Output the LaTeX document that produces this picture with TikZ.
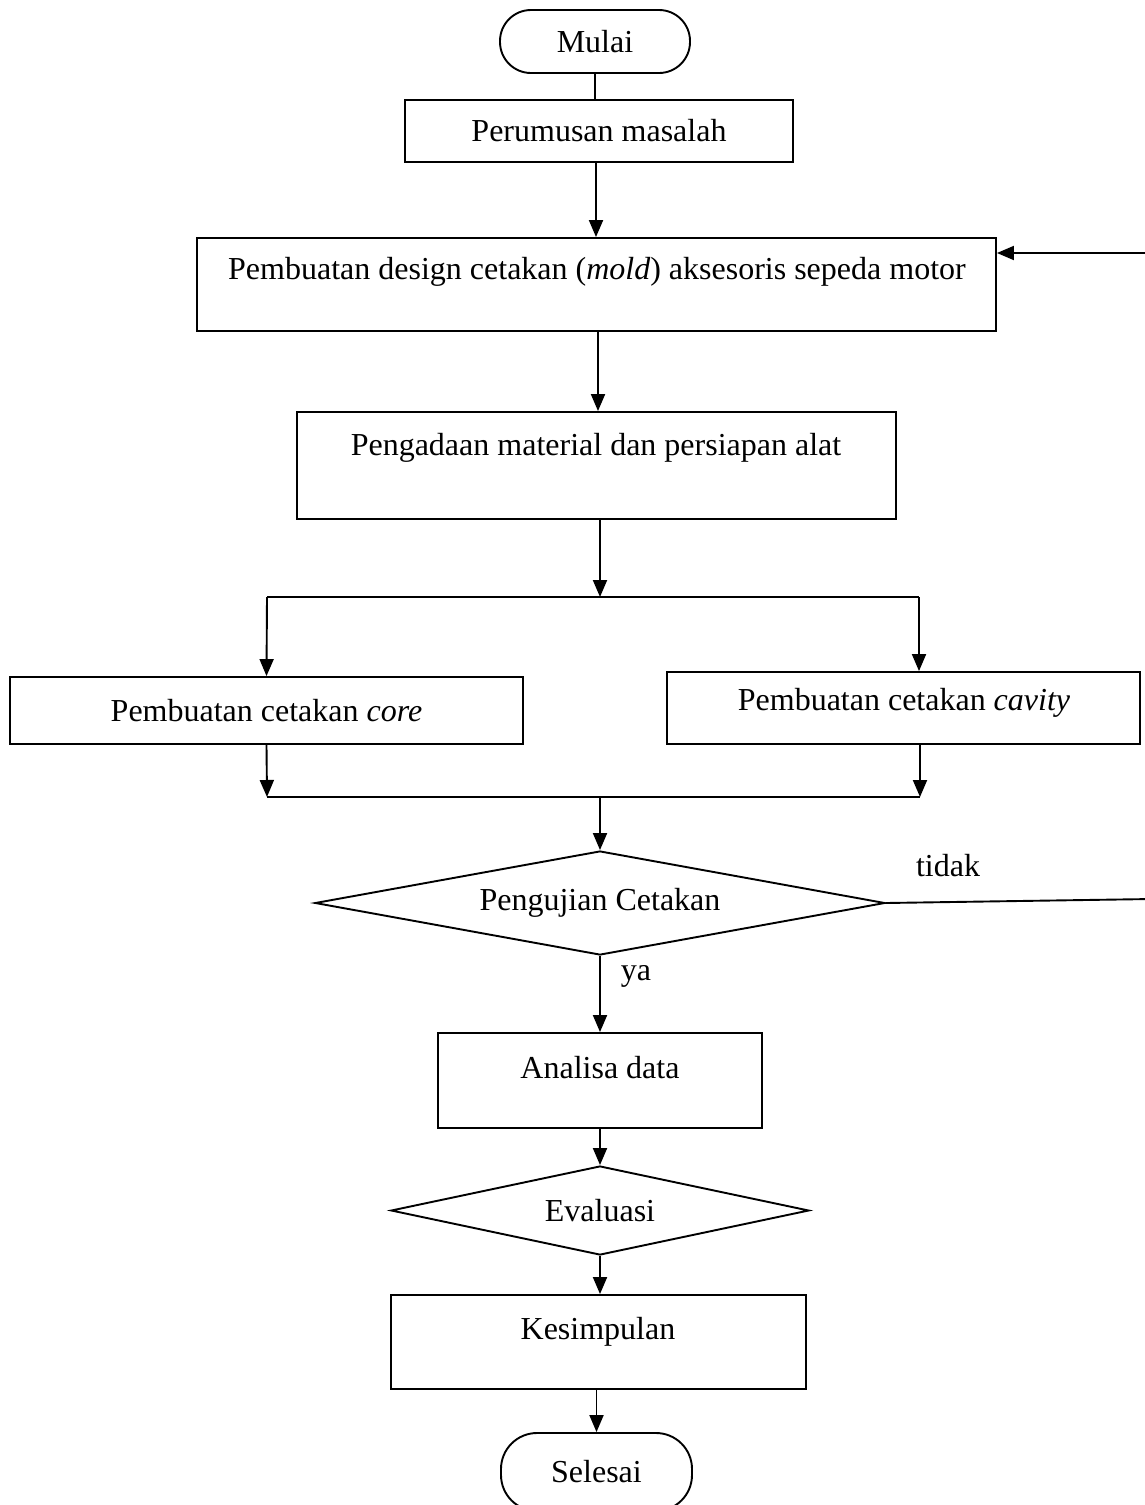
\documentclass[tikz,border=0pt]{standalone}
\usepackage{fontspec}
\setmainfont{Liberation Serif}
\usetikzlibrary{shapes.geometric,arrows.meta,calc}
\begin{document}
\begin{tikzpicture}[x=1pt,y=-1pt,
  every node/.style={font=\fontsize{32}{36}\selectfont},
  box/.style={draw,line width=1.9pt,rectangle,inner sep=0pt},
  term/.style={draw,line width=1.9pt,rectangle,rounded corners=31pt,inner sep=0pt},
  dia/.style={draw,line width=1.9pt,diamond,inner sep=0pt},
  txt/.style={inner sep=0pt},
  conn/.style={line width=1.9pt},
  arr/.style={line width=1.9pt,-{Triangle[length=17pt,width=14pt]}}]
\useasboundingbox (0,0) rectangle (1145,1505);
% nodes
\node[term,minimum width=190pt,minimum height=63pt] (mulai) at (595,41.5) {Mulai};
\node[box,minimum width=388pt,minimum height=62pt] (perum) at (599,131) {Perumusan masalah};
\node[box,minimum width=799pt,minimum height=93pt] (design) at (596.5,284.5) {};
\node[txt] (designt) at (597,272) {Pembuatan design cetakan (\textit{mold}) aksesoris sepeda motor};
\node[box,minimum width=599pt,minimum height=107pt] (pengadaan) at (596.5,465.5) {};
\node[txt] (pengadaant) at (596,448) {Pengadaan material dan persiapan alat};
\node[box,minimum width=513pt,minimum height=67pt] (core) at (266.5,710.5) {Pembuatan cetakan \textit{core}};
\node[box,minimum width=473pt,minimum height=72pt] (cavity) at (903.5,708) {};
\node[txt] (cavityt) at (904,703) {Pembuatan cetakan \textit{cavity}};
\node[dia,shape aspect=5.48,minimum width=570pt,minimum height=104pt] (uji) at (600,903) {Pengujian Cetakan};
\node[box,minimum width=324pt,minimum height=95pt] (analisa) at (600,1080.5) {};
\node[txt] (analisat) at (600,1068) {Analisa data};
\node[dia,shape aspect=4.7,minimum width=418pt,minimum height=89pt] (eval) at (600,1210.5) {Evaluasi};
\node[box,minimum width=415pt,minimum height=94pt] (kes) at (598.5,1342) {};
\node[txt] (kest) at (598,1332) {Kesimpulan};
\node[term,minimum width=191pt,minimum height=78pt,rounded corners=36pt] (selesai) at (596.5,1472) {Selesai};
\node[txt] (tidak) at (948,866) {tidak};
\node[txt] (ya) at (636,976) {ya};
% coordinates
\coordinate (split) at (600,597);
\coordinate (sl) at (267,597);
\coordinate (sr) at (919,597);
\coordinate (jl) at (267,797);
\coordinate (jr) at (920,797);
\coordinate (jm) at (600,797);
\coordinate (fb1) at (1152,899);
\coordinate (fb2) at (1152,253);
% connectors
\draw[conn] (mulai.south) -- (mulai.south |- perum.north);
\draw[arr] (perum.south -| 596,0) -- (design.north -| 596,0);
\draw[arr] (design.south -| 598,0) -- (pengadaan.north -| 598,0);
\draw[arr] (pengadaan.south -| split) -- (split);
\draw[conn] (sl) -- (sr);
\draw[arr] (sl) -- (core.north);
\draw[arr] (sr) -- (sr |- cavity.north);
\draw[arr] (core.south) -- (jl);
\draw[arr] (cavity.south -| jr) -- (jr);
\draw[conn] (jl) -- (jr);
\draw[arr] (jm) -- (uji.north);
\draw[conn] (uji.east) -- (fb1) -- (fb2);
\draw[arr] (fb2) -- (design.east |- fb2);
\draw[arr] (uji.south) -- (analisa.north);
\draw[arr] (analisa.south) -- (eval.north);
\draw[arr] (eval.south) -- (kes.north -| eval);
\draw[arr] (kes.south -| selesai) -- (selesai.north);
\end{tikzpicture}
\end{document}
